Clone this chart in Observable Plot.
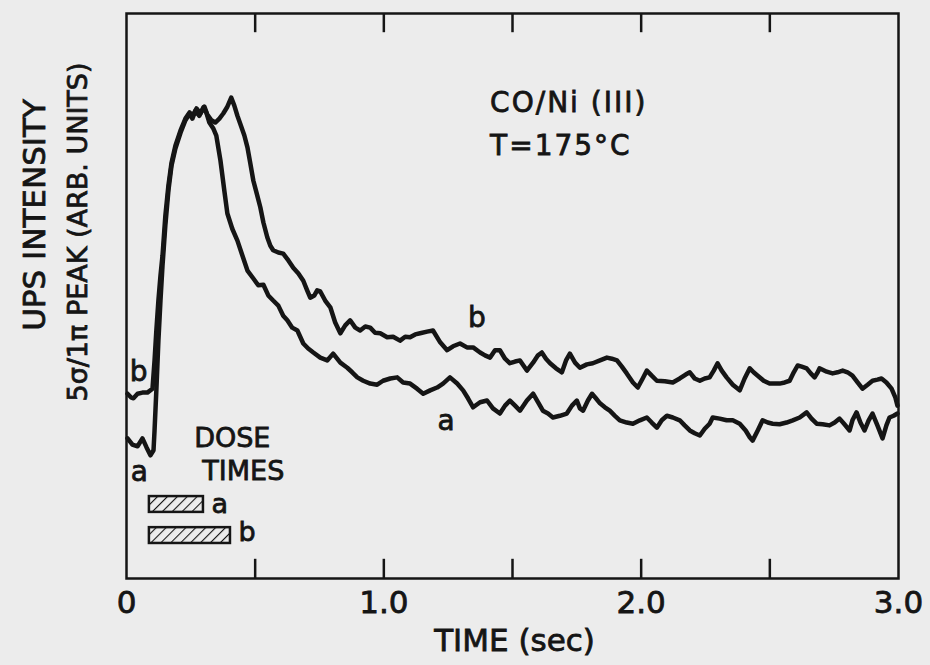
<!DOCTYPE html>
<html><head><meta charset="utf-8">
<script src="https://cdn.jsdelivr.net/npm/d3@7"></script>
<script src="https://cdn.jsdelivr.net/npm/@observablehq/plot@0.6"></script>
<style>
html,body{margin:0;padding:0;background:#ececec;}
#chart svg{display:block;}
#chart svg text{stroke:#151515;stroke-width:0.8px;}
.note text{letter-spacing:2px;}
</style></head><body><div id="chart"></div>
<script>
// Curve a (time in s, 5σ/1π peak intensity in arbitrary units)
const timeA = [0.004,0.023,0.043,0.062,0.078,0.093,0.105,0.109,0.116,0.124,0.132,0.140,0.151,0.163,0.175,0.190,0.210,0.229,0.245,0.256,0.268,0.283,0.299,0.310,0.322,0.338,0.349,0.365,0.380,0.392,0.411,0.431,0.450,0.470,0.493,0.512,0.532,0.551,0.570,0.590,0.609,0.625,0.644,0.664,0.687,0.706,0.726,0.753,0.780,0.803,0.831,0.858,0.877,0.897,0.920,0.947,0.974,0.997,1.025,1.052,1.075,1.102,1.129,1.153,1.180,1.207,1.230,1.257,1.285,1.308,1.327,1.347,1.374,1.401,1.424,1.451,1.471,1.490,1.510,1.529,1.556,1.580,1.599,1.618,1.638,1.657,1.684,1.711,1.731,1.750,1.762,1.774,1.793,1.809,1.824,1.840,1.859,1.878,1.898,1.917,1.944,1.968,1.995,2.022,2.041,2.061,2.080,2.100,2.123,2.150,2.169,2.189,2.208,2.228,2.247,2.266,2.278,2.305,2.332,2.356,2.383,2.406,2.422,2.433,2.453,2.472,2.492,2.511,2.538,2.565,2.589,2.616,2.643,2.662,2.682,2.705,2.732,2.752,2.771,2.790,2.810,2.821,2.837,2.852,2.868,2.884,2.899,2.918,2.938,2.953,2.965,2.981,2.996];
const intensityA = [24.8,23.7,23.4,24.8,23.2,21.8,22.7,26.2,33.3,42.1,49.2,55.4,62.5,68.7,73.1,76.1,78.9,81.1,82.3,81.4,82.8,81.9,83.4,82.5,80.7,79.6,78.4,74.0,68.7,64.6,61.9,59.8,57.2,54.5,53.1,51.9,52.0,50.1,49.2,48.3,46.5,45.7,44.4,43.9,41.6,40.7,40.0,39.1,38.6,39.8,38.2,37.3,36.5,35.6,35.0,34.5,34.3,35.0,35.4,35.6,34.7,34.5,33.6,32.7,33.3,33.8,34.5,35.6,34.5,33.3,31.9,30.3,31.2,31.5,30.1,29.2,30.6,31.5,30.6,29.7,31.5,32.7,31.2,29.7,29.2,28.5,28.8,29.2,30.6,31.5,30.1,29.7,31.5,32.7,31.9,31.0,30.3,29.7,28.8,28.0,27.6,27.4,28.0,28.5,27.6,26.7,28.0,28.8,28.5,28.0,27.1,26.2,25.7,25.3,26.5,27.4,28.5,28.3,28.0,28.0,27.4,26.2,25.0,24.4,26.2,28.0,27.6,27.4,27.3,27.6,28.0,28.5,29.4,28.3,27.4,27.3,27.1,27.6,28.3,27.3,26.2,28.0,29.4,27.6,26.2,28.0,29.2,27.1,24.8,27.1,28.5,28.8,29.2];

// Curve b
const timeB = [0.004,0.019,0.027,0.043,0.062,0.081,0.101,0.109,0.116,0.124,0.132,0.140,0.151,0.163,0.175,0.190,0.210,0.229,0.245,0.256,0.272,0.287,0.303,0.314,0.330,0.345,0.361,0.376,0.392,0.407,0.419,0.431,0.442,0.458,0.470,0.481,0.493,0.508,0.520,0.532,0.547,0.559,0.570,0.590,0.609,0.629,0.648,0.668,0.687,0.702,0.714,0.730,0.741,0.753,0.772,0.792,0.811,0.831,0.850,0.869,0.889,0.908,0.928,0.947,0.966,0.986,1.013,1.036,1.063,1.083,1.102,1.122,1.141,1.168,1.191,1.219,1.246,1.269,1.296,1.323,1.347,1.374,1.393,1.413,1.432,1.451,1.471,1.490,1.510,1.529,1.556,1.580,1.599,1.614,1.630,1.646,1.669,1.692,1.708,1.723,1.743,1.762,1.789,1.812,1.840,1.867,1.886,1.906,1.925,1.944,1.968,1.987,2.006,2.022,2.041,2.061,2.092,2.123,2.150,2.173,2.189,2.208,2.228,2.247,2.266,2.282,2.297,2.313,2.332,2.356,2.383,2.402,2.422,2.437,2.453,2.476,2.499,2.519,2.538,2.558,2.577,2.593,2.608,2.624,2.643,2.659,2.674,2.686,2.693,2.721,2.744,2.763,2.783,2.802,2.821,2.841,2.860,2.880,2.899,2.918,2.934,2.953,2.973,2.988,2.996];
const intensityB = [32.7,32.0,31.9,32.7,32.9,32.9,33.6,38.6,43.9,49.2,53.6,57.2,64.2,69.6,73.6,76.6,79.3,81.4,82.5,81.8,83.2,82.3,83.5,82.1,81.1,80.7,81.4,82.3,83.5,85.1,83.7,81.9,80.5,78.4,76.3,73.5,70.4,67.8,65.7,63.0,60.4,58.9,58.1,57.7,57.5,56.3,55.0,54.0,52.7,51.0,49.7,50.1,51.0,50.8,49.2,48.0,45.3,43.4,44.8,45.7,44.4,43.9,44.6,44.4,43.5,43.4,42.7,42.8,42.1,42.8,42.7,43.2,43.4,43.7,43.9,41.8,40.4,41.1,41.6,40.9,40.9,40.0,39.5,39.1,40.4,40.4,38.9,38.1,38.4,38.6,36.8,38.2,39.5,40.0,38.9,38.1,37.2,36.5,38.6,39.8,38.2,37.3,37.9,38.1,38.6,39.1,38.9,38.6,37.5,36.3,34.7,33.8,35.4,36.8,35.9,35.0,34.9,34.7,35.4,36.1,36.5,35.4,35.0,35.4,35.6,36.8,38.1,36.8,35.6,34.3,33.3,35.4,37.2,36.5,35.9,35.0,34.5,34.5,34.5,34.7,35.0,36.5,37.7,37.5,37.2,36.3,35.6,36.5,37.2,36.6,36.3,36.5,36.8,36.5,35.9,34.7,33.6,34.3,35.0,35.2,35.4,34.7,33.6,32.0,30.6];

// Dose times (s)
const doseRuns = ["a", "b"];
const doseStart = [0.089, 0.089];
const doseEnd = [0.299, 0.404];

// Axis ticks
const xTickValues = [0, 1, 2, 3];
const xTickLabels = ["0", "1.0", "2.0", "3.0"];
const xMinorTicks = [0.5, 1.0, 1.5, 2.0, 2.5];

// Texts
const xLabel = "TIME (sec)";
const yLabelLines = ["UPS INTENSITY", "5σ/1π PEAK (ARB. UNITS)"];
const titleLines = ["CO/Ni (III)", "T=175°C"];
const doseTitle = ["DOSE", "TIMES"];
const curveLabels = ["b", "a", "b", "a"];

const ink = "#151515";
const font = "DejaVu Sans";

const curves = [
  ...timeA.map((t, i) => ({t, v: intensityA[i], run: "a"})),
  ...timeB.map((t, i) => ({t, v: intensityB[i], run: "b"}))
];
const doses = doseRuns.map((r, i) => ({run: r, start: doseStart[i], end: doseEnd[i]}));
const tickLen = 3.4;

const chart = Plot.plot({
  width: 930, height: 665,
  marginLeft: 126, marginRight: 32, marginTop: 13, marginBottom: 87,
  style: {background: "#ececec", color: ink, fontFamily: font},
  x: {domain: [0, 3]},
  y: {domain: [0, 100], axis: null},
  marks: [
    Plot.frame({stroke: ink, strokeWidth: 2.5}),
    Plot.ruleX(xMinorTicks, {y1: 0, y2: tickLen, stroke: ink, strokeWidth: 2.5}),
    Plot.ruleX(xMinorTicks, {y1: 100 - tickLen, y2: 100, stroke: ink, strokeWidth: 2.5}),
    Plot.axisX(xTickValues, {tickSize: 0, tickPadding: 12, fontSize: 31, label: null,
      tickFormat: d => xTickLabels[xTickValues.indexOf(d)], fill: ink}),
    Plot.text([xLabel], {frameAnchor: "bottom", lineAnchor: "middle", textAnchor: "middle", dy: 63, dx: 2, fontSize: 31, fill: ink}),
    Plot.text([yLabelLines[0]], {frameAnchor: "left", textAnchor: "middle", lineAnchor: "middle", rotate: -90, dx: -91, dy: -81, fontSize: 31, fill: ink}),
    Plot.text([yLabelLines[1]], {frameAnchor: "left", textAnchor: "middle", lineAnchor: "middle", rotate: -90, dx: -48, dy: -64, fontSize: 27, fill: ink}),
    Plot.line(curves, {x: "t", y: "v", z: "run", stroke: ink, strokeWidth: 4.5, strokeLinejoin: "round", strokeLinecap: "round"}),
    Plot.text(titleLines, {x: [1.413, 1.413], y: [84.1, 76.5], textAnchor: "start", fontSize: 28, fill: ink, className: "note"}),
    Plot.text(curveLabels, {x: [1.362, 1.242, 0.047, 0.050], y: [46.1, 27.8, 36.5, 18.8], fontSize: 28, fill: ink}),
    Plot.text(doseTitle, {x: [0.411, 0.454], y: [24.8, 18.9], fontSize: 27, fill: ink}),
    Plot.rect(doses, {x1: "start", x2: "end", y1: [11.7, 6.2], y2: [14.5, 9.0], fill: "url(#hatch)", stroke: ink, strokeWidth: 2.5}),
    Plot.text(doses, {x: "end", y: [13.2, 8.1], text: "run", textAnchor: "start", dx: 8, fontSize: 27, fill: ink})
  ]
});

const defs = document.createElementNS("http://www.w3.org/2000/svg", "defs");
defs.innerHTML = `<pattern id="hatch" patternUnits="userSpaceOnUse" width="7" height="7" patternTransform="rotate(45)"><line x1="0" y1="0" x2="0" y2="7" stroke="${ink}" stroke-width="2.2"/></pattern>`;
chart.insertBefore(defs, chart.firstChild);
document.getElementById("chart").appendChild(chart);
</script>
</body></html>
